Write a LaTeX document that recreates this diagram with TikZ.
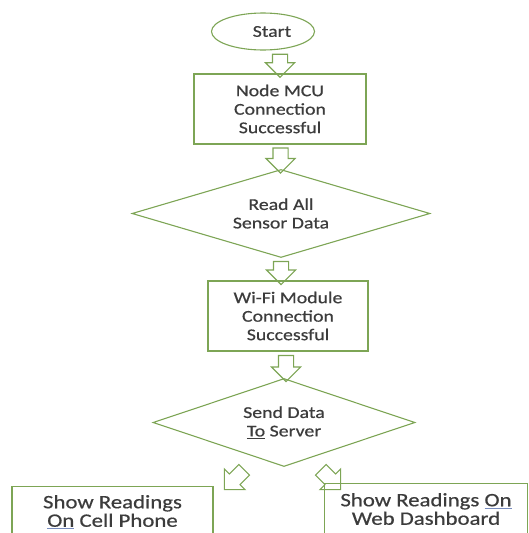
\documentclass[tikz,border=0pt]{standalone}
\usepackage{fontspec}
\setmainfont{Carlito}[FakeStretch=1.2, FakeBold=0.6]
\usetikzlibrary{shapes.geometric,shapes.arrows,calc}
\definecolor{flowgreen}{RGB}{125,165,85}
\definecolor{flowtext}{RGB}{60,60,60}
\definecolor{spellblue}{RGB}{120,140,190}
\newcommand{\ulon}[1]{\underline{#1}}
\newcommand{\ulblue}[1]{{\color{spellblue}\underline{\color{flowtext}#1}}}
\tikzset{
  flowbase/.style={draw=flowgreen, line width=1.1pt, text=flowtext, align=center,
    font=\fontsize{16.5}{18.5}\selectfont},
  startshape/.style={flowbase, ellipse, minimum width=103pt, minimum height=37pt, inner sep=0pt},
  procbox/.style={flowbase, rectangle, minimum width=#1, minimum height=70pt, inner sep=2pt},
  outbox/.style={flowbase, rectangle, minimum width=#1, minimum height=51pt, inner sep=2pt,
    font=\fontsize{19}{18.5}\selectfont},
  decision/.style={flowbase, diamond, aspect=3.4, minimum width=#1, minimum height=88pt, inner sep=0pt},
  flowarrow/.style={draw=flowgreen, line width=1.1pt, single arrow, inner xsep=0pt, inner ysep=7pt,
    minimum width=28pt, single arrow head extend=7pt, single arrow head indent=0pt, minimum height=#1}
}
\begin{document}
\begin{tikzpicture}[x=1pt, y=-1pt]
		\clip (0, 0) rectangle (529, 533);
		
		%%%%% SHAPES %%%%%
		\node[startshape] (start) at (263, 31.5) {\hspace*{18pt}Start};
		\node[procbox=172pt] (mcu) at (280, 109) {Node MCU\\Connection\\Successful};
		\node[decision=298pt] (read) at (281, 213.5) {Read All\\Sensor Data};
		\node[procbox=160pt] (wifi) at (288, 316) {Wi-Fi Module\\Connection\\Successful};
		\node[decision=262pt] (send) at (284, 422.5) {Send Data\\\ulon{To} Server};
		\node[outbox=201pt] (phone) at (112.5, 512) {Show Readings\\\ulblue{On} Cell Phone};
		\node[outbox=203pt] (web) at (426, 509) {Show Readings \ulblue{On}\\Web Dashboard};
		
		%%%%% ARROWS %%%%%
		\node[flowarrow=23pt, rotate=-90] (a1) at ($(start.south -| mcu.north)!0.5!(mcu.north)$) {};
		\node[flowarrow=25pt, rotate=-90] (a2) at ($(mcu.south)!0.5!(read.north)$) {};
		\node[flowarrow=23pt, rotate=-90] (a3) at ($(read.south)!0.5!(read.south |- wifi.north)$) {};
		\node[flowarrow=26pt, rotate=-90] (a4) at ($(wifi.south)!0.5!(send.north)$) {};
		\node[flowarrow=28pt, rotate=-135] (a5) at (237, 477) {};
		\node[flowarrow=28pt, rotate=-45] (a6) at (328, 477) {};
\end{tikzpicture}
\end{document}
